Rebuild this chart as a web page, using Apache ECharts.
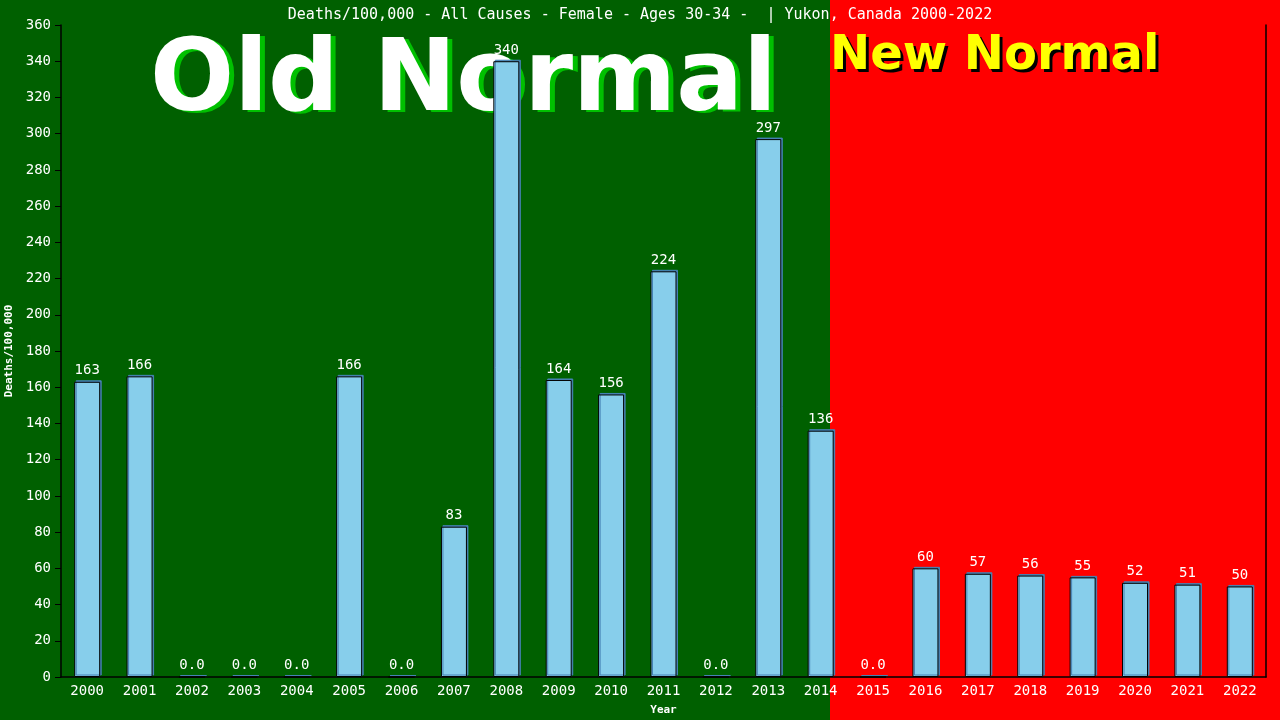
<!DOCTYPE html>
<html>
<head>
<meta charset="UTF-8">
<title>Deaths/100,000 - Yukon Female 30-34</title>
<style>
  html, body { margin: 0; padding: 0; background: #006000; }
  #chart { width: 1280px; height: 720px; }
</style>
</head>
<body>
<div id="chart"></div>
<script src="https://cdn.jsdelivr.net/npm/echarts@6/dist/echarts.min.js"></script>
<script>
  // data
  const years = ['2000', '2001', '2002', '2003', '2004', '2005', '2006', '2007', '2008', '2009', '2010', '2011',
    '2012', '2013', '2014', '2015', '2016', '2017', '2018', '2019', '2020', '2021', '2022'];
  const deaths = [163, 166, 0, 0, 0, 166, 0, 83, 340, 164, 156, 224, 0, 297, 136, 0, 60, 57, 56, 55, 52, 51, 50];

  const titleText = 'Deaths/100,000 - All Causes - Female - Ages 30-34 -  | Yukon, Canada 2000-2022';
  const mono = 'DejaVu Sans Mono';

  const chart = echarts.init(document.getElementById('chart'));
  chart.setOption({
    animation: false,
    backgroundColor: '#006000',
    title: {
      text: titleText,
      left: 'center',
      top: 3,
      textStyle: { color: '#fff', fontFamily: mono, fontSize: 15, fontWeight: 'normal' }
    },
    graphic: [
      { type: 'rect', z: -10, shape: { x: 0, y: 0, width: 830, height: 720 }, style: { fill: '#006000' }, silent: true },
      { type: 'rect', z: -10, shape: { x: 830, y: 0, width: 450, height: 720 }, style: { fill: '#ff0000' }, silent: true },
      { type: 'text', z: -5, left: 155, top: 37, silent: true,
        style: { text: 'Old Normal', fill: '#00c000', font: 'bold 99px "DejaVu Sans"' } },
      { type: 'text', z: -4, left: 150, top: 35, silent: true,
        style: { text: 'Old Normal', fill: '#ffffff', font: 'bold 99px "DejaVu Sans"' } },
      { type: 'text', z: -5, left: 833, top: 36, silent: true,
        style: { text: 'New Normal', fill: '#000000', font: 'bold 48px "DejaVu Sans"' } },
      { type: 'text', z: -4, left: 830, top: 33, silent: true,
        style: { text: 'New Normal', fill: '#ffff00', font: 'bold 48px "DejaVu Sans"' } }
    ],
    grid: { left: 61, right: 14, top: 25, bottom: 43, containLabel: false, outerBoundsMode: 'none' },
    xAxis: {
      type: 'category',
      data: years,
      name: 'Year',
      nameLocation: 'middle',
      nameGap: 28,
      nameTextStyle: { color: '#fff', fontFamily: mono, fontSize: 11, fontWeight: 'bold' },
      axisLine: { lineStyle: { color: '#000', width: 1.5 } },
      axisTick: { show: false },
      axisLabel: { color: '#fff', fontFamily: mono, fontSize: 14, margin: 7 },
      splitLine: { show: false }
    },
    yAxis: [
      {
        type: 'value',
        min: 0,
        max: 360,
        interval: 20,
        name: 'Deaths/100,000',
        nameLocation: 'middle',
        nameGap: 44,
        nameTextStyle: { color: '#fff', fontFamily: mono, fontSize: 11, fontWeight: 'bold' },
        axisLine: { show: true, lineStyle: { color: '#000', width: 1.5 } },
        axisTick: { show: true, length: 6, lineStyle: { color: '#000' } },
        axisLabel: { color: '#fff', fontFamily: mono, fontSize: 14, margin: 10 },
        splitLine: { show: false }
      },
      {
        type: 'value',
        position: 'right',
        min: 0,
        max: 360,
        interval: 20,
        axisLine: { show: true, lineStyle: { color: '#000', width: 1.5 } },
        axisTick: { show: false },
        axisLabel: { show: false },
        splitLine: { show: false }
      }
    ],
    series: [{
      type: 'bar',
      data: deaths,
      barWidth: 26,
      itemStyle: {
        color: '#87ceeb',
        borderColor: '#000',
        borderWidth: 1,
        shadowColor: '#4682b4',
        shadowBlur: 0,
        shadowOffsetX: 1.5,
        shadowOffsetY: -1.5
      },
      label: {
        show: true,
        position: 'top',
        distance: 4,
        color: '#fff',
        fontFamily: mono,
        fontSize: 14,
        formatter: p => p.value === 0 ? '0.0' : String(p.value)
      }
    }]
  });
</script>
</body>
</html>
